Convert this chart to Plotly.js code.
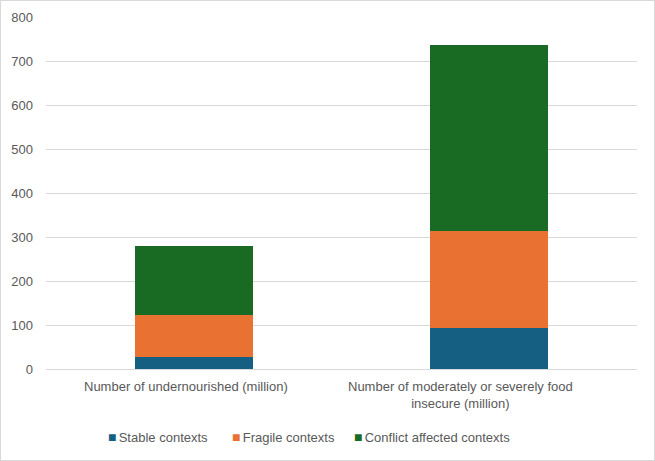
<!DOCTYPE html>
<html>
<head>
<meta charset="utf-8">
<script src="https://cdn.plot.ly/plotly-3.0.1.min.js"></script>
<style>
html,body{margin:0;padding:0;background:#fff;}
#chart{width:653px;height:459px;border:1px solid #d9d9d9;}
</style>
</head>
<body>
<div id="chart"></div>
<script>
const categories = ["Number of undernourished (million)", "Number of moderately or severely food insecure (million)"];
const tickLabels = ["Number of undernourished (million)", "Number of moderately or severely food<br>insecure (million)"];
const stable = [27, 94];
const fragile = [96, 220];
const conflict = [157, 422];
const seriesNames = ["Stable contexts", "Fragile contexts", "Conflict affected contexts"];
const colors = ["#156082", "#E97132", "#196B24"];
const legendX = [0.102, 0.311, 0.517];
const labelShift = [-7.5, -29];

const data = [stable, fragile, conflict].map((vals, i) => ({
  type: "bar",
  x: categories,
  y: vals,
  name: seriesNames[i],
  marker: {color: colors[i]},
  hoverinfo: "none"
}));

const legendAnn = seriesNames.map((n, i) => ({
  xref: "paper", yref: "paper",
  x: legendX[i], y: -0.193,
  xanchor: "left", yanchor: "middle",
  showarrow: false,
  text: '<span style="color:' + colors[i] + ';font-size:14px">■</span><span style="font-size:8px"> </span>' + n,
  font: {size: 13, color: "#595959"}
}));

const catAnn = categories.map((c, i) => ({
  xref: "x", yref: "paper",
  x: c, y: 0,
  xanchor: "center", yanchor: "top",
  yshift: -8, xshift: labelShift[i],
  showarrow: false,
  text: tickLabels[i],
  font: {size: 13, color: "#595959"}
}));

const layout = {
  barmode: "stack",
  bargap: 0.6,
  width: 653,
  height: 459,
  margin: {l: 45, r: 17, t: 16, b: 91},
  paper_bgcolor: "#fff",
  plot_bgcolor: "#fff",
  font: {family: "Liberation Sans, Arial, sans-serif", size: 13, color: "#595959"},
  xaxis: {
    showticklabels: false,
    showgrid: false,
    showline: false,
    ticks: "",
    automargin: false
  },
  yaxis: {
    range: [0, 800],
    dtick: 100,
    gridcolor: "#d9d9d9",
    gridwidth: 1,
    zeroline: true,
    zerolinecolor: "#d9d9d9",
    zerolinewidth: 1,
    showline: false,
    ticks: "",
    ticklabelstandoff: 12,
    automargin: false
  },
  annotations: legendAnn.concat(catAnn),
  showlegend: false
};

Plotly.newPlot("chart", data, layout, {displayModeBar: false, staticPlot: true});
</script>
</body>
</html>
